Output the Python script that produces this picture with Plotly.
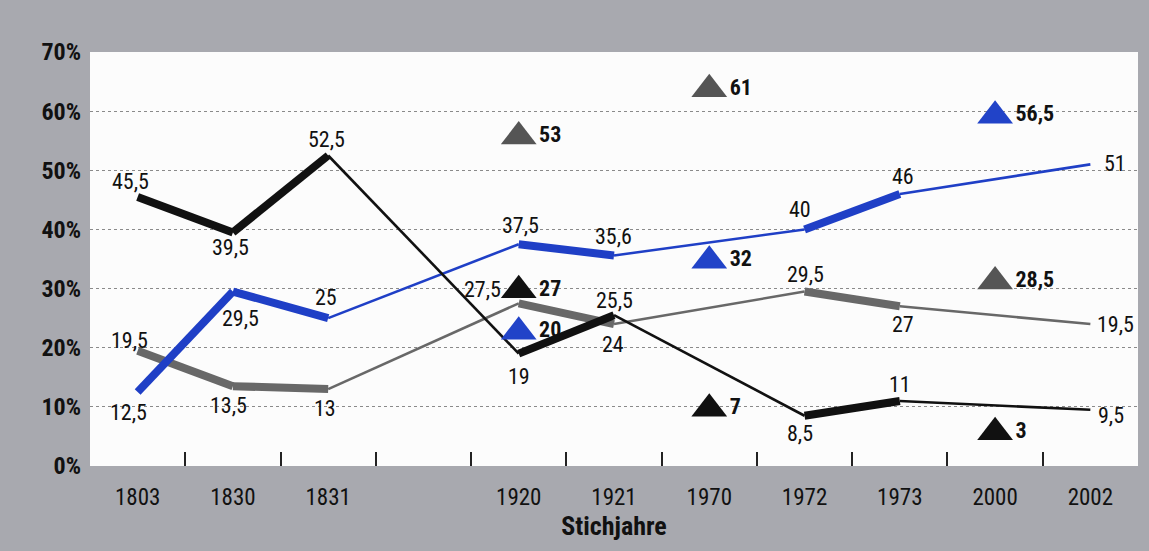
import plotly.graph_objects as go

# Stichjahre (slot " " is the empty gap between 1831 and 1920)
categories = ["1803", "1830", "1831", " ", "1920", "1921", "1970", "1972", "1973", "2000", "2002"]

line_years = ["1803", "1830", "1831", "1920", "1921", "1972", "1973", "2002"]
black_vals = [45.5, 39.5, 52.5, 19, 25.5, 8.5, 11, 9.5]
blue_vals = [12.5, 29.5, 25, 37.5, 35.6, 40, 46, 51]
grey_vals = [19.5, 13.5, 13, 27.5, 24, 29.5, 27, 24]
black_labels = ["45,5", "39,5", "52,5", "19", "25,5", "8,5", "11", "9,5"]
blue_labels = ["12,5", "29,5", "25", "37,5", "35,6", "40", "46", "51"]
grey_labels = ["19,5", "13,5", "13", "27,5", "24", "29,5", "27", "19,5"]

tri_years = ["1920", "1970", "2000"]
black_tri = [27, 7, 3]
blue_tri = [20, 32, 56.5]
grey_tri = [53, 61, 28.5]

y_ticks = [0, 10, 20, 30, 40, 50, 60, 70]
y_ticktext = ["0%", "10%", "20%", "30%", "40%", "50%", "60%", "70%"]

FONT = "Roboto Condensed, Liberation Sans Narrow, DejaVu Sans Condensed, sans-serif"
BLACK, BLUE, GREY = "#111111", "#1f3fc6", "#686868"

# which segments are drawn heavy
thick = [True, True, False, True, False, True, False]

# label placement per point: (xshift, yshift, xanchor)
black_pos = [(-7, 15, "center"), (-2, -15, "center"), (-2, 16, "center"), (0, -23, "center"),
             (0, 15, "center"), (-5, -18, "center"), (0, 16, "center"), (6, -6, "left")]
blue_pos = [(-9, -20, "center"), (8, -27, "center"), (-2, 21, "center"), (2, 19, "center"),
            (-1, 19, "center"), (-5, 20, "center"), (3, 17, "center"), (12, 1, "left")]
grey_pos = [(-8, 10, "center"), (-4, -19, "center"), (-3, -19, "center"), (-16, 14, "right"),
            (-1, -20, "center"), (1, 17, "center"), (3, -18, "center"), (5, 0, "left")]

fig = go.Figure()


def add_line(vals, color):
    for i in range(len(vals) - 1):
        fig.add_trace(go.Scatter(
            x=line_years[i:i + 2], y=vals[i:i + 2], mode="lines",
            line=dict(color=color, width=8 if thick[i] else 2.6),
            hoverinfo="skip", showlegend=False))


add_line(grey_vals, GREY)
add_line(blue_vals, BLUE)
add_line(black_vals, BLACK)

# value labels next to the line points
# (annotations on a category axis take the category index, "1803" would be read as a number)
for vals, labels, pos in [(black_vals, black_labels, black_pos),
                          (blue_vals, blue_labels, blue_pos),
                          (grey_vals, grey_labels, grey_pos)]:
    for yr, v, lab, (dx, dy, anchor) in zip(line_years, vals, labels, pos):
        fig.add_annotation(x=categories.index(yr), y=v, text=lab, showarrow=False,
                           xanchor=anchor, yanchor="middle", xshift=dx, yshift=dy,
                           font=dict(family=FONT, size=22, color="#111"))

# triangles (own overlay axis so the base sits on the value)
for vals, color in [(grey_tri, "#555555"), (blue_tri, "#2143c8"), (black_tri, BLACK)]:
    fig.add_trace(go.Scatter(
        x=tri_years, y=vals, yaxis="y2", mode="markers+text",
        marker=dict(symbol="triangle-up", size=31, color=color),
        text=[str(v).replace(".", ",") for v in vals],
        textposition="middle right",
        textfont=dict(family=FONT, size=22, color="#111", weight="bold"),
        hoverinfo="skip", showlegend=False))

fig.update_layout(
    width=1149, height=551,
    margin=dict(l=90, r=11, t=52, b=85),
    paper_bgcolor="#a8a9af",
    plot_bgcolor="#fcfcfc",
    font=dict(family=FONT, color="#111"),
    xaxis=dict(
        type="category", categoryorder="array", categoryarray=categories,
        range=[-0.5, 10.5], tickson="boundaries", ticks="inside",
        ticklen=14, tickwidth=1.5, tickcolor="#222", showgrid=False,
        showline=False, zeroline=False, ticklabelstandoff=15,
        tickfont=dict(size=23),
        title=dict(text="Stichjahre", font=dict(size=26, weight="bold"), standoff=4),
    ),
    yaxis=dict(
        range=[0, 70], tickvals=y_ticks, ticktext=y_ticktext,
        showgrid=True, gridcolor="#8a8a8a", griddash="dot", gridwidth=1,
        zeroline=False, showline=False, ticks="", ticklabelstandoff=8,
        tickfont=dict(size=24, weight="bold"),
    ),
    yaxis2=dict(range=[-2.7, 67.3], overlaying="y", visible=False),
)

fig.write_html("out.html", config={"displayModeBar": False},
               post_script="document.body.style.margin='0';")
